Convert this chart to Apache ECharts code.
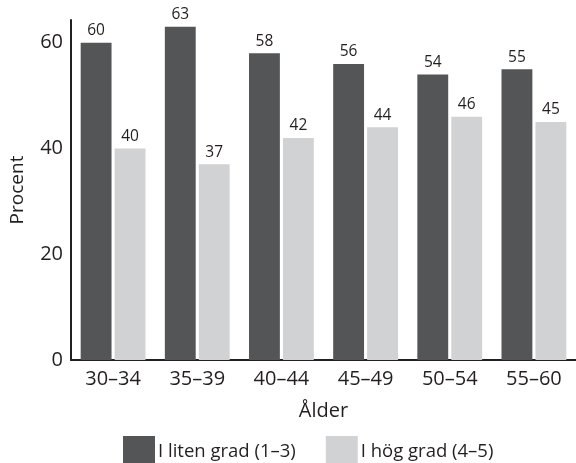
<!DOCTYPE html>
<html>
<head>
<meta charset="utf-8">
<script src="https://cdn.jsdelivr.net/npm/echarts@6/dist/echarts.min.js"></script>
<style>
html,body{margin:0;padding:0;background:#fff;}
#chart{width:576px;height:463px;}
</style>
</head>
<body>
<div id="chart"></div>
<script>
const categories = ['30–34', '35–39', '40–44', '45–49', '50–54', '55–60'];
const litenGrad = [60, 63, 58, 56, 54, 55];
const hogGrad = [40, 37, 42, 44, 46, 45];
const seriesNames = ['I liten grad (1–3)', 'I hög grad (4–5)'];
const yTicks = [0, 20, 40, 60];

const FONT = '"Open Sans", sans-serif';
const TXT = '#231f20';

const chart = echarts.init(document.getElementById('chart'), null, {renderer: 'canvas'});
chart.setOption({
  animation: false,
  textStyle: {fontFamily: FONT, color: TXT},
  grid: {left: 70, right: -3, top: 20, bottom: 103, containLabel: false},
  legend: {
    left: 123, top: 436, padding: 0,
    itemWidth: 32, itemHeight: 32, itemGap: 30,
    icon: 'rect',
    textStyle: {fontFamily: FONT, fontSize: 18.5, color: TXT, padding: [0, 0, 3, -2]},
    data: seriesNames
  },
  xAxis: {
    type: 'category',
    data: categories,
    name: 'Ålder',
    nameLocation: 'middle',
    nameGap: 41,
    nameTextStyle: {fontFamily: FONT, fontSize: 20, color: TXT},
    axisLine: {lineStyle: {color: TXT, width: 2}},
    axisTick: {show: false},
    axisLabel: {fontFamily: FONT, fontSize: 20, color: TXT, margin: 9}
  },
  yAxis: {
    type: 'value',
    min: 0, max: 64.3, interval: 20,
    name: 'Procent',
    nameLocation: 'middle',
    nameGap: 44,
    nameTextStyle: {fontFamily: FONT, fontSize: 19, color: TXT},
    axisLine: {show: true, lineStyle: {color: TXT, width: 2}},
    axisTick: {show: false},
    splitLine: {show: false},
    axisLabel: {
      fontFamily: FONT, fontSize: 20, color: TXT, margin: 8,
      showMaxLabel: false,
      formatter: v => (yTicks.indexOf(v) >= 0 ? String(v) : '')
    }
  },
  series: [
    {
      name: seriesNames[0], type: 'bar', data: litenGrad,
      itemStyle: {color: '#545557'},
      barGap: '10%', barCategoryGap: '23%',
      label: {show: true, position: 'top', distance: 4, fontFamily: FONT, fontSize: 15.5, color: TXT}
    },
    {
      name: seriesNames[1], type: 'bar', data: hogGrad,
      itemStyle: {color: '#d1d2d4'},
      barGap: '10%', barCategoryGap: '23%',
      label: {show: true, position: 'top', distance: 4, fontFamily: FONT, fontSize: 15.5, color: TXT}
    }
  ]
});
</script>
</body>
</html>
